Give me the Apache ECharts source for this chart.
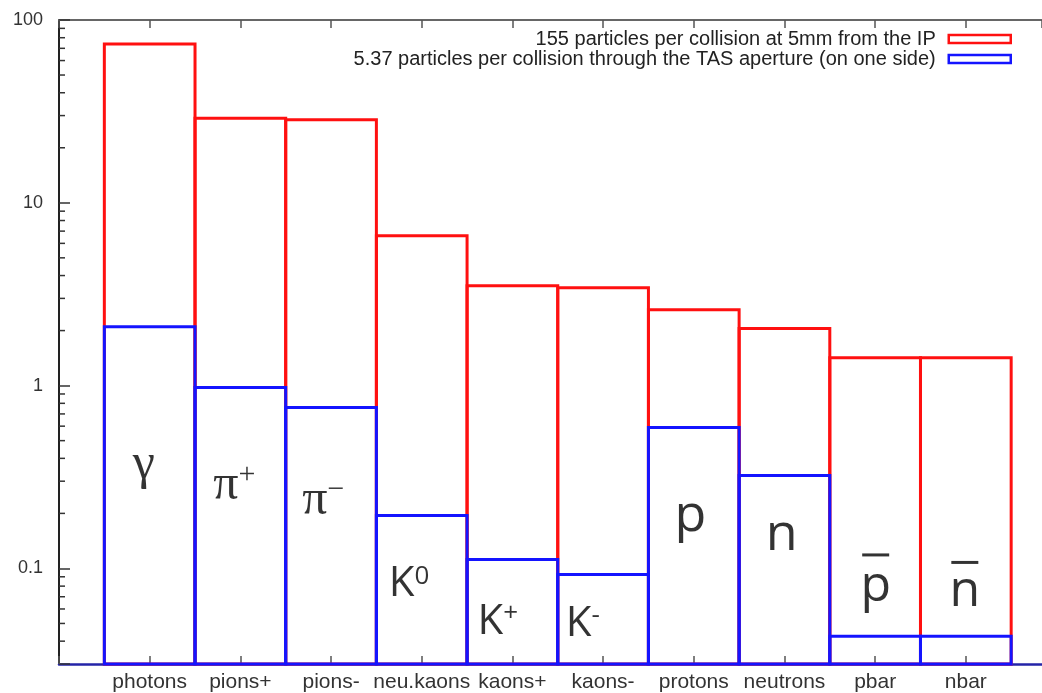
<!DOCTYPE html>
<html><head><meta charset="utf-8">
<script src="https://cdn.jsdelivr.net/npm/echarts@6/dist/echarts.min.js"></script>
<style>html,body{margin:0;padding:0;background:#fff}#c{width:1042px;height:693px}</style>
</head><body><div id="c"></div>
<script>
// ---- data ----
const categories = ['photons', 'pions+', 'pions-', 'neu.kaons', 'kaons+', 'kaons-', 'protons', 'neutrons', 'pbar', 'nbar'];
const ipValues  = [74, 29, 28.5, 6.6, 3.52, 3.43, 2.6, 2.05, 1.42, 1.42];
const tasValues = [2.1, 0.975, 0.758, 0.195, 0.112, 0.0927, 0.59, 0.322, 0.0425, 0.0425];
const seriesNames = [
  '155 particles per collision at 5mm from the IP',
  '5.37 particles per collision through the TAS aperture (on one side)'
];
const yTickLabels = ['0.1', '1', '10', '100'];
const yMinorTicks = [0.04, 0.05, 0.06, 0.07, 0.08, 0.09,
  0.2, 0.3, 0.4, 0.5, 0.6, 0.7, 0.8, 0.9,
  2, 3, 4, 5, 6, 7, 8, 9,
  20, 30, 40, 50, 60, 70, 80, 90];
const particleLabels = [
  '{g|γ}', '{g|π}{gs|+}', '{g|π}{gs|−}', '{k|K}{ks|0}', '{k|K}{ks|+}', '{k|K}{ks|-}',
  '{b|p}', '{b|n}', '{ovp| }\n{bb|p}', '{ovn| }\n{bb|n}'
];
// annotation anchors in data space [category position, value]
const particleLabelAt = [
  [-0.066, 0.370], [0.933, 0.284], [1.916, 0.235], [2.860, 0.0818], [3.838, 0.0511],
  [4.776, 0.0497], [5.964, 0.1924], [6.969, 0.1525], [8.006, 0.0865], [8.989, 0.0787]
];

const Y_MIN = 0.03, Y_MAX = 100;
const X_MIN = -1, X_MAX = 9.84;
const RED = '#ff1010', BLUE = '#1414ff';

const chart = echarts.init(document.getElementById('c'), null, {renderer: 'canvas'});

function boxSeries(name, values, color, z) {
  return {
    type: 'custom', name: name, z: z,
    xAxisIndex: 0, yAxisIndex: 0,
    encode: {x: 0, y: 1},
    data: values.map((v, i) => [i, v]),
    clip: false,
    renderItem: function (params, api) {
      const i = api.value(0), v = api.value(1);
      const p1 = api.coord([i - 0.5, v]);
      const p2 = api.coord([i + 0.5, Y_MIN]);
      return {
        type: 'rect',
        shape: {x: p1[0], y: p1[1], width: p2[0] - p1[0], height: p2[1] - p1[1]},
        style: {fill: 'none', stroke: color, lineWidth: 3}
      };
    }
  };
}

const option = {
  animation: false,
  backgroundColor: '#fff',
  grid: {left: 59, right: 0, top: 20, bottom: 28, containLabel: false},
  legend: {
    orient: 'vertical', right: 25, top: 24, align: 'right',
    itemWidth: 62, itemHeight: 8, itemGap: 0,
    textStyle: {fontFamily: 'Liberation Sans', fontSize: 20, color: '#222', lineHeight: 20, padding: [0, 8, 0, 0]},
    data: [
      {name: seriesNames[0], icon: 'rect', itemStyle: {color: '#fff', borderColor: RED, borderWidth: 2.5}},
      {name: seriesNames[1], icon: 'rect', itemStyle: {color: '#fff', borderColor: BLUE, borderWidth: 2.5}}
    ]
  },
  xAxis: [{
    type: 'value', position: 'bottom', min: X_MIN, max: X_MAX, interval: 1,
    axisLine: {show: true, onZero: false, lineStyle: {color: '#2424a8', width: 2.5}},
    axisTick: {show: true, inside: true, length: 8, lineStyle: {color: '#555', width: 1.5}},
    splitLine: {show: false},
    axisLabel: {
      margin: 8, fontFamily: 'Liberation Sans', fontSize: 21, color: '#333', showMaxLabel: false,
      formatter: function (v) { return (v >= 0 && v < categories.length && Number.isInteger(v)) ? categories[v] : ''; }
    }
  }, {
    type: 'value', position: 'top', min: X_MIN, max: X_MAX, interval: 1,
    axisLine: {show: true, onZero: false, lineStyle: {color: '#666', width: 2}},
    axisTick: {show: true, inside: true, length: 8, lineStyle: {color: '#555', width: 1.5}},
    splitLine: {show: false},
    axisLabel: {show: false}
  }],
  yAxis: {
    type: 'log', logBase: 10, min: Y_MIN, max: Y_MAX,
    axisLine: {show: true, onZero: false, lineStyle: {color: '#222', width: 2}},
    axisTick: {show: true, inside: true, length: 11, lineStyle: {color: '#333', width: 1.5}},
    splitLine: {show: false},
    axisLabel: {
      margin: 16, fontFamily: 'Liberation Sans', fontSize: 18, color: '#333',
      formatter: function (v) { const s = String(+(+v).toPrecision(6)); return yTickLabels.indexOf(s) >= 0 ? s : ''; }
    }
  },
  series: [
    boxSeries(seriesNames[0], ipValues, RED, 2),
    boxSeries(seriesNames[1], tasValues, BLUE, 3),
    {
      type: 'custom', name: 'minor', z: 4, clip: false, silent: true,
      encode: {y: 0},
      data: yMinorTicks.map(v => [v]),
      renderItem: function (params, api) {
        const p = api.coord([X_MIN, api.value(0)]);
        return {type: 'line', shape: {x1: p[0], y1: p[1], x2: p[0] + 6, y2: p[1]},
          style: {stroke: '#333', lineWidth: 1.5}};
      }
    },
    {
      type: 'scatter', name: 'labels', z: 5, silent: true, symbolSize: 0,
      data: particleLabelAt.map((p, i) => ({value: p, label: {formatter: particleLabels[i]}})),
      label: {
        show: true, position: 'inside', color: '#000', align: 'center',
        rich: {
          g: {fontFamily: 'Liberation Serif', fontSize: 50, color: '#000'},
          gs: {fontFamily: 'Liberation Serif', fontSize: 30, color: '#000', verticalAlign: 'top'},
          k: {fontFamily: 'Open Sans', fontSize: 42, color: '#000'},
          ks: {fontFamily: 'Open Sans', fontSize: 26, color: '#000', verticalAlign: 'top'},
          b: {fontFamily: 'Open Sans', fontSize: 52, color: '#000'},
          bb: {fontFamily: 'Open Sans', fontSize: 50, color: '#000', lineHeight: 50, align: 'center'},
          ovp: {fontSize: 4, width: 27, height: 3, lineHeight: 13, backgroundColor: '#000', align: 'center'},
          ovn: {fontSize: 4, width: 27, height: 3, lineHeight: 9, backgroundColor: '#000', align: 'center'}
        }
      }
    }
  ]
};
chart.setOption(option);
</script>
</body></html>
